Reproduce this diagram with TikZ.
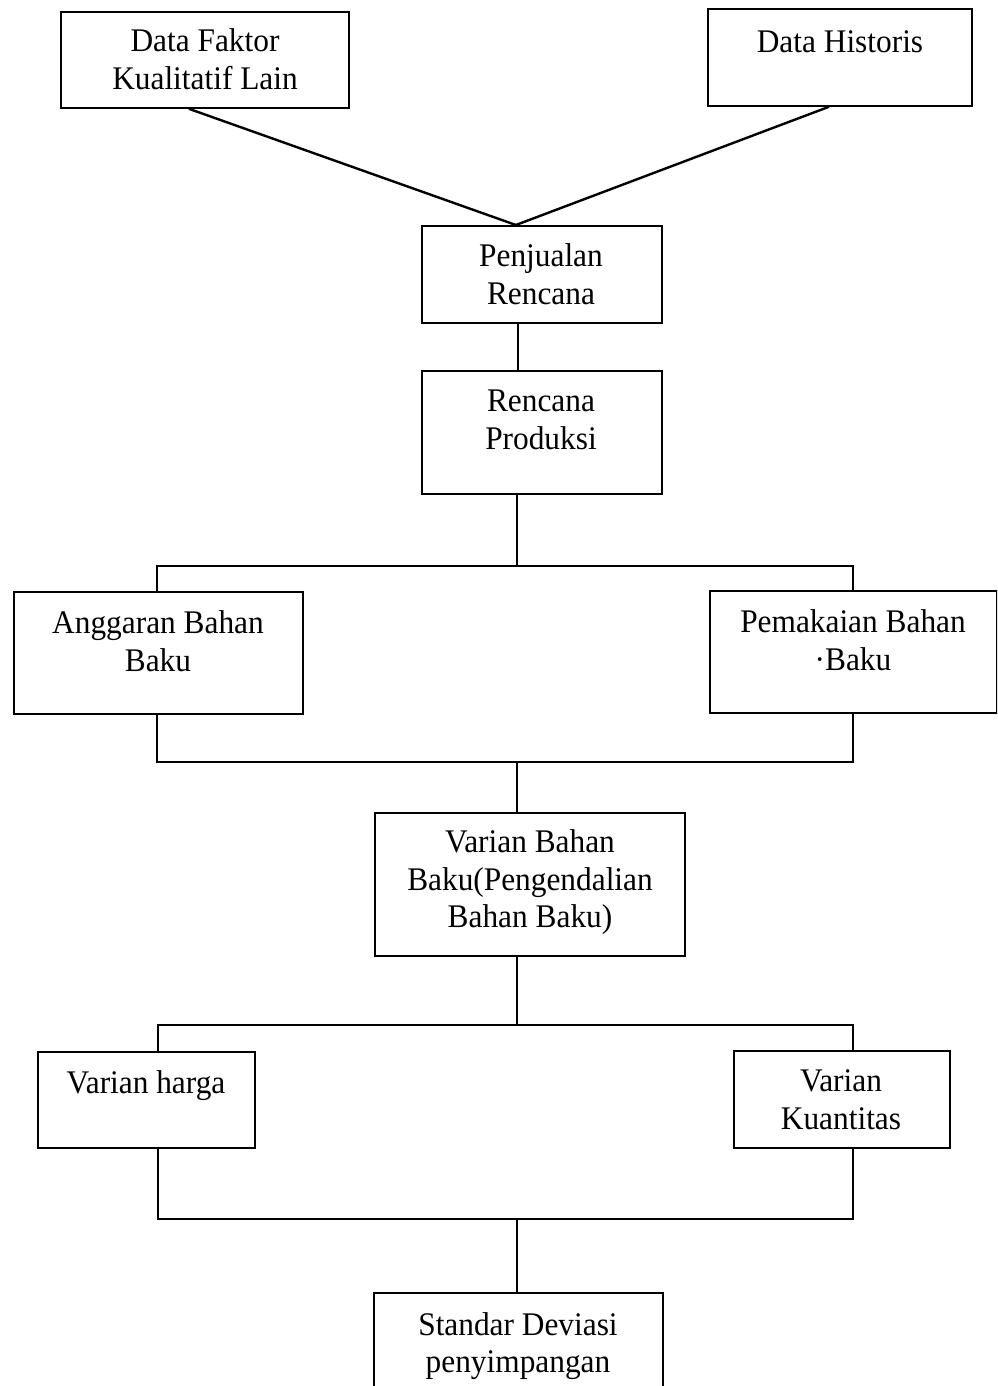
\documentclass[tikz,border=0pt]{standalone}
\usepackage{fontspec}
\setmainfont{Liberation Serif}[FakeStretch=0.95]
\begin{document}
\begin{tikzpicture}[x=1pt,y=-1pt,
  bx/.style={draw, line width=1.8pt, inner sep=0pt, anchor=north west},
  txt/.style={inner sep=0pt, anchor=base, align=center, font=\fontsize{33}{37.5}\selectfont},
  ln/.style={line width=1.6pt},
  dg/.style={line width=2.4pt}]
\useasboundingbox (0,0) rectangle (997,1386);
\clip (0,0) rectangle (997,1386);
% boxes
\node[bx, minimum width=288pt, minimum height=96pt]  (b1)  at (60,11)   {};
\node[bx, minimum width=264pt, minimum height=97pt]  (b2)  at (707,8)   {};
\node[bx, minimum width=240pt, minimum height=97pt]  (b3)  at (421,225) {};
\node[bx, minimum width=240pt, minimum height=123pt] (b4)  at (421,370) {};
\node[bx, minimum width=289pt, minimum height=122pt] (b5)  at (13,591)  {};
\node[bx, minimum width=287pt, minimum height=122pt] (b6)  at (709,590) {};
\node[bx, minimum width=310pt, minimum height=143pt] (b7)  at (374,812) {};
\node[bx, minimum width=217pt, minimum height=96pt]  (b8)  at (37,1051) {};
\node[bx, minimum width=216pt, minimum height=97pt]  (b9)  at (733,1050) {};
\node[bx, minimum width=289pt, minimum height=140pt] (b10) at (373,1292) {};
% texts (anchor = baseline of last line)
\node[txt] (t1)  at (205,89.5)   {Data Faktor\\Kualitatif Lain};
\node[txt] (t2)  at (840,53)     {Data Historis};
\node[txt] (t3)  at (541,304)    {Penjualan\\Rencana};
\node[txt] (t4)  at (541,449)    {Rencana\\Produksi};
\node[txt] (t5)  at (158,671)    {Anggaran Bahan\\Baku};
\node[txt] (t6)  at (853,670)    {Pemakaian Bahan\\·Baku};
\node[txt] (t7)  at (530,927.5)  {Varian Bahan\\Baku(Pengendalian\\Bahan Baku)};
\node[txt] (t8)  at (146,1093)   {Varian harga};
\node[txt] (t9)  at (841,1129)   {Varian\\Kuantitas};
\node[txt] (t10) at (518,1372.5) {Standar Deviasi\\penyimpangan};
% junction coordinates
\coordinate (j1)  at (517,566);
\coordinate (j1l) at (157,566);
\coordinate (j1r) at (853,566);
\coordinate (j2)  at (517,762);
\coordinate (j2l) at (157,762);
\coordinate (j2r) at (853,762);
\coordinate (j3)  at (517,1025);
\coordinate (j3l) at (158,1025);
\coordinate (j3r) at (853,1025);
\coordinate (j4)  at (517,1219);
\coordinate (j4l) at (158,1219);
\coordinate (j4r) at (853,1219);
% connectors
\draw[dg] ([xshift=-16pt]b1.south) -- ([xshift=-26pt]b3.north);
\draw[dg] ([xshift=-11pt]b2.south) -- ([xshift=-26pt]b3.north);
\draw[ln] ([xshift=-24pt]b3.south) -- ([xshift=-24pt]b4.north);
\draw[ln] (b4.south -| j1) -- (j1);
\draw[ln] (b5.north -| j1l) -- (j1l) -- (j1r) -- (b6.north -| j1r);
\draw[ln] (b5.south -| j2l) -- (j2l) -- (j2r) -- (b6.south -| j2r);
\draw[ln] (j2) -- (b7.north -| j2);
\draw[ln] (b7.south -| j3) -- (j3);
\draw[ln] (b8.north -| j3l) -- (j3l) -- (j3r) -- (b9.north -| j3r);
\draw[ln] (b8.south -| j4l) -- (j4l) -- (j4r) -- (b9.south -| j4r);
\draw[ln] (j4) -- (b10.north -| j4);
\end{tikzpicture}
\end{document}
